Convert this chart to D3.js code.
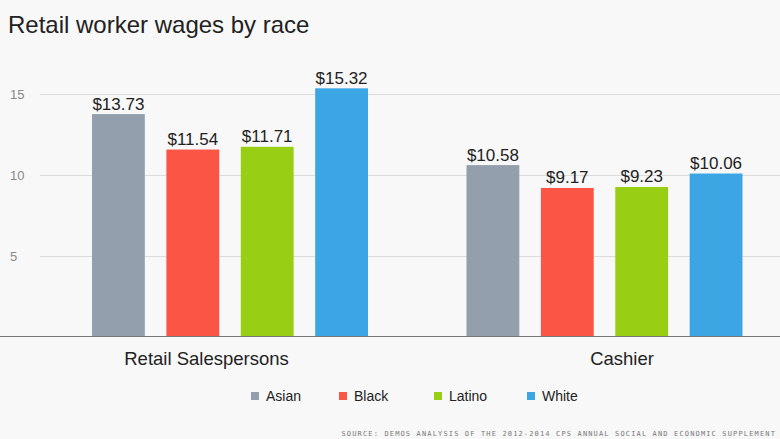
<!DOCTYPE html>
<html><head><meta charset="utf-8">
<script src="https://cdn.jsdelivr.net/npm/d3@7"></script>
<style>body{margin:0;background:#f8f8f8;}svg{display:block;}</style>
</head><body>
<script>
const categories = ["Retail Salespersons", "Cashier"];
const races = ["Asian", "Black", "Latino", "White"];
const values = {
  "Retail Salespersons": [13.73, 11.54, 11.71, 15.32],
  "Cashier": [10.58, 9.17, 9.23, 10.06]
};
const yTicks = [5, 10, 15];
const colors = ["#939fad", "#fb5546", "#98cf15", "#3ca6e5"];

const W = 780, H = 439;
const svg = d3.select("body").append("svg").attr("width", W).attr("height", H)
  .style("font-family", "'Liberation Sans', Arial, Helvetica, sans-serif");
svg.append("rect").attr("width", W).attr("height", H).attr("fill", "#f8f8f8");

svg.append("text").attr("x", 8).attr("y", 33).attr("font-size", 24).attr("fill", "#222")
  .text("Retail worker wages by race");

const y = d3.scaleLinear().domain([0, 15]).range([336.5, 93.5]);
const x0 = d3.scaleBand().domain(categories).range([43, 792]);
const x1 = d3.scaleBand().domain(races).range([49, 325]).paddingInner(0.29);
const xLabel = d3.scalePoint().domain(categories).range([206.5, 622]);
const color = d3.scaleOrdinal().domain(races).range(colors);

// gridlines
svg.append("g").selectAll("line").data(yTicks).join("line")
  .attr("x1", 40).attr("x2", W).attr("y1", d => Math.round(y(d)) + 0.5).attr("y2", d => Math.round(y(d)) + 0.5)
  .attr("stroke", "#dcdcdc").attr("stroke-width", 1);
svg.append("g").selectAll("text").data(yTicks).join("text")
  .attr("x", 10).attr("y", d => y(d) + 5)
  .attr("font-size", 13).attr("fill", "#888").text(d => d);

// bars
const groups = svg.append("g").selectAll("g").data(categories).join("g")
  .attr("transform", d => `translate(${x0(d)},0)`);
groups.selectAll("rect").data(c => values[c].map((v, i) => ({race: races[i], v}))).join("rect")
  .attr("x", d => x1(d.race)).attr("width", x1.bandwidth())
  .attr("y", d => y(d.v)).attr("height", d => y(0) - y(d.v))
  .attr("fill", d => color(d.race));
groups.selectAll("text.val").data(c => values[c].map((v, i) => ({race: races[i], v}))).join("text")
  .attr("class", "val")
  .attr("x", d => x1(d.race) + x1.bandwidth() / 2).attr("y", d => y(d.v) - 4.5)
  .attr("text-anchor", "middle").attr("font-size", 17).attr("fill", "#222")
  .text(d => "$" + d.v.toFixed(2));

// baseline
svg.append("line").attr("x1", 0).attr("x2", W).attr("y1", 336.5).attr("y2", 336.5)
  .attr("stroke", "#777").attr("stroke-width", 1.2);

// category labels
svg.append("g").selectAll("text").data(categories).join("text")
  .attr("x", d => xLabel(d)).attr("y", 365)
  .attr("text-anchor", "middle").attr("font-size", 18.5).attr("fill", "#222").text(d => d);

// legend
const legendX = [251, 339, 434, 527];
const lg = svg.append("g").selectAll("g").data(races).join("g")
  .attr("transform", (d, i) => `translate(${legendX[i]},392)`);
lg.append("rect").attr("width", 8).attr("height", 8).attr("fill", d => color(d));
lg.append("text").attr("x", 15).attr("y", 9).attr("font-size", 14).attr("fill", "#222").text(d => d);

// source
svg.append("text").attr("x", 776).attr("y", 436).attr("text-anchor", "end")
  .attr("font-family", "'DejaVu Sans Mono', monospace").attr("font-size", 7)
  .attr("letter-spacing", 1.15).attr("fill", "#777")
  .text("SOURCE: DEMOS ANALYSIS OF THE 2012-2014 CPS ANNUAL SOCIAL AND ECONOMIC SUPPLEMENT");
</script>
</body></html>
